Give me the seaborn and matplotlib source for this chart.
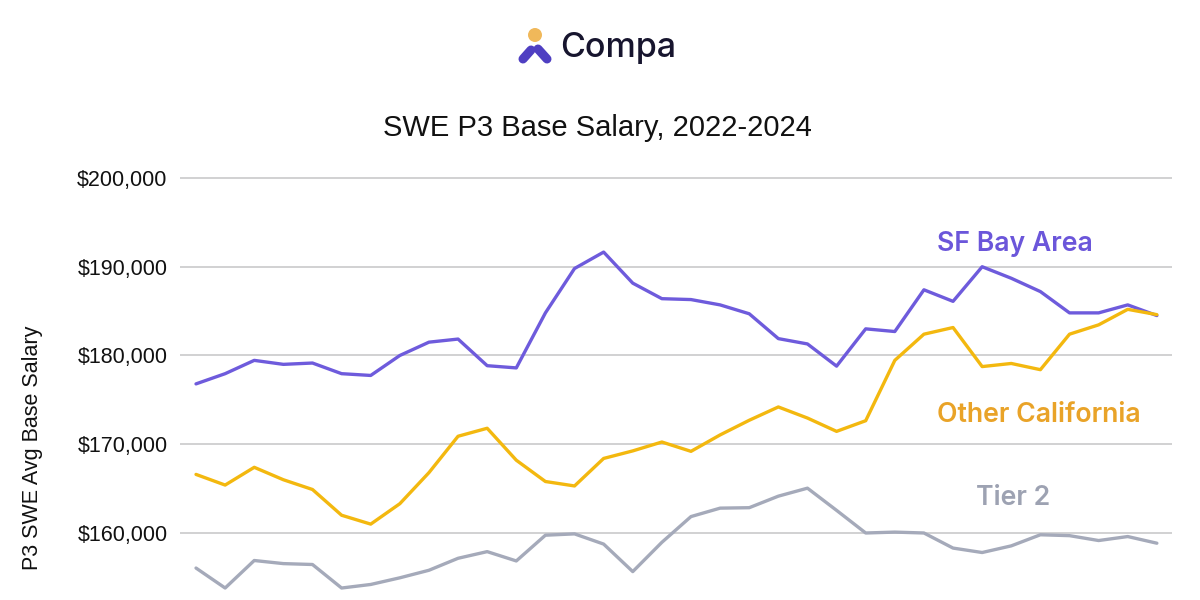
import numpy as np
import pandas as pd
import seaborn as sns
import matplotlib.pyplot as plt
from matplotlib.lines import Line2D
from matplotlib.patches import Ellipse
from matplotlib.ticker import FuncFormatter

# ----- data (monthly, Jan 2022 .. Oct 2024) -----
months = [f"{y}-{m:02d}" for y in (2022, 2023, 2024) for m in range(1, 13)][:34]

sf_bay = [176800, 177950, 179450, 179000, 179150, 177950, 177750, 180000, 181500, 181850,
          178850, 178600, 184800, 189800, 191650, 188150, 186400, 186300, 185700, 184700,
          181900, 181300, 178800, 183000, 182700, 187400, 186100, 190000, 188700, 187200,
          184800, 184800, 185700, 184500]
other_ca = [166600, 165400, 167400, 166000, 164900, 162000, 161000, 163300, 166800, 170900,
            171800, 168200, 165800, 165300, 168400, 169250, 170250, 169200, 171050, 172700,
            174200, 172950, 171450, 172650, 179450, 182400, 183150, 178750, 179100, 178400,
            182400, 183450, 185200, 184600]
tier2 = [156050, 153800, 156900, 156550, 156450, 153800, 154200, 154950, 155800, 157150,
         157900, 156850, 159750, 159900, 158750, 155650, 158950, 161850, 162800, 162850,
         164150, 165050, 162550, 160000, 160100, 160000, 158300, 157800, 158550, 159800,
         159700, 159150, 159600, 158850]

regions = ["SF Bay Area", "Other California", "Tier 2"]
line_colors = ["#6E5BDC", "#F3B80F", "#A5AABA"]
label_colors = ["#6B56DA", "#E9A328", "#9DA2B2"]

df = pd.DataFrame({
    "pos": list(range(len(months))) * 3,
    "region": np.repeat(regions, len(months)),
    "salary": sf_bay + other_ca + tier2,
})

# ----- plot -----
sns.set_theme(style="white")
plt.rcParams["font.family"] = ["Liberation Sans", "DejaVu Sans"]

W, H = 1200, 600
fig = plt.figure(figsize=(12, 6), dpi=100)

def fx(px):
    return px / W

def fy(py):
    return 1 - py / H

# axes: gridline 200k at y=178px, 160k at y=533px; plot area x 180..1172px
ax = fig.add_axes([fx(180), 0, fx(1172) - fx(180), 1 - 169.1 / H])
sns.lineplot(data=df, x="pos", y="salary", hue="region", hue_order=regions,
             palette=line_colors, linewidth=2.4, legend=False, ax=ax)

ax.set_xlim(-0.55, len(months) - 1 + 0.52)
ax.set_ylim(152450, 201000)
ax.set_yticks([160000, 170000, 180000, 190000, 200000])
ax.yaxis.set_major_formatter(FuncFormatter(lambda v, _: f"${v:,.0f}"))
ax.set_xticks([])
ax.set_xlabel("")
ax.set_ylabel("")
ax.yaxis.grid(True, color="#C9C9CB", linewidth=1.2)
ax.set_axisbelow(True)
ax.tick_params(axis="y", length=0, pad=9, labelsize=15.5, labelcolor="#111111")
for s in ax.spines.values():
    s.set_visible(False)

# series labels
label_pos = [(25.45, 192550), (25.45, 173250), (26.8, 163950)]
for name, (lx, ly), c in zip(regions, label_pos, label_colors):
    ax.text(lx, ly, name, color=c, fontsize=19.2, fontweight="semibold",
            family=["Inter", "DejaVu Sans"], ha="left", va="center")

# y label and title
fig.text(fx(33), fy(448), "P3 SWE Avg Base Salary", rotation=90, fontsize=15.5,
         ha="center", va="center", color="#111111")
fig.text(fx(597), fy(128), "SWE P3 Base Salary, 2022-2024", fontsize=21,
         ha="center", va="center", color="#111111")

# Compa logo
fig.text(fx(560), fy(48), "Compa", fontsize=24.5, fontweight="medium",
         family=["Inter", "DejaVu Sans"], ha="left", va="center", color="#17152E")
fig.add_artist(Ellipse((fx(535), fy(35)), 14 / W, 14 / H, transform=fig.transFigure,
                       color="#F0B85A", ec="none"))
fig.add_artist(Line2D([fx(523), fx(531)], [fy(59), fy(50)], transform=fig.transFigure,
                      color="#4F3FC2", lw=6.5, solid_capstyle="round"))
fig.add_artist(Line2D([fx(538), fx(547)], [fy(49), fy(59)], transform=fig.transFigure,
                      color="#4F3FC2", lw=6.5, solid_capstyle="round"))

fig.savefig("out.png", dpi=100)
